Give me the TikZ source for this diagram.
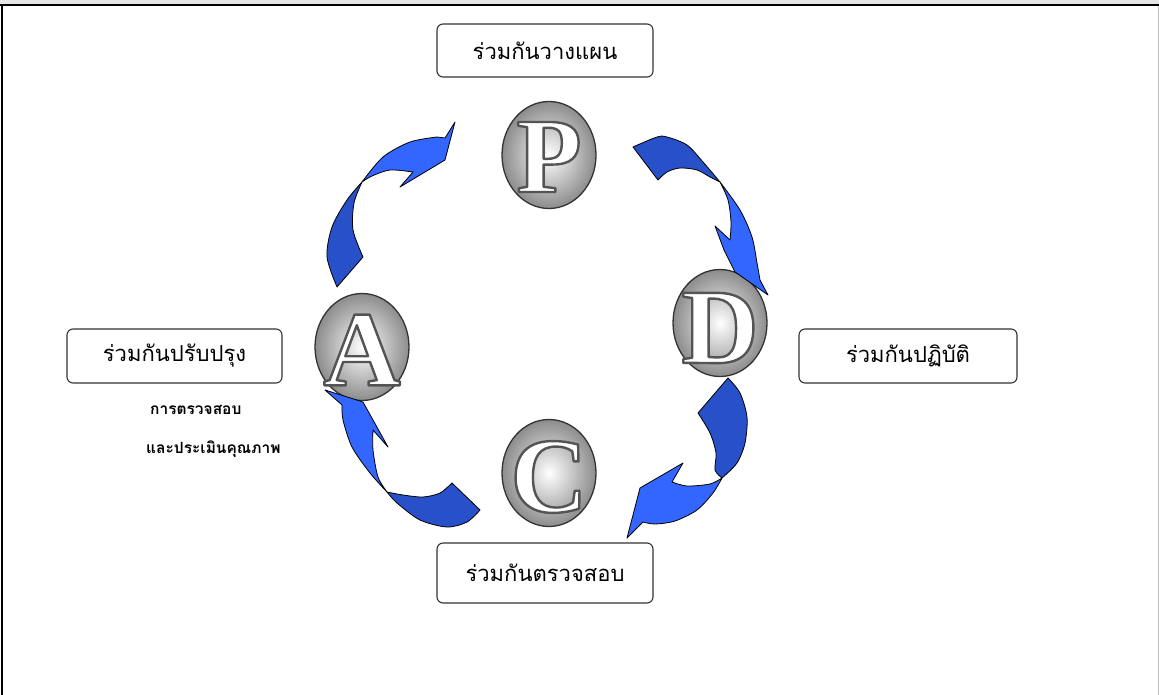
\documentclass[tikz,border=0pt]{standalone}
\usepackage{fontspec}
\newfontfamily\thaifont[Script=Thai]{Loma}
\newfontfamily\letfont{Liberation Serif}
\usetikzlibrary{shapes.geometric}
\definecolor{darkblue}{HTML}{2850C8}
\definecolor{lightblue}{HTML}{3366FF}
\definecolor{ballrim}{HTML}{333333}
\definecolor{ballout}{HTML}{8C8C8C}
\newcommand\outlined[1]{\textcolor{white}{\special{pdf:literal direct 2 Tr 2.4 w 1 j 0.33 0.33 0.33 RG}#1\special{pdf:literal direct 0 Tr}}}
\begin{document}
\begin{tikzpicture}[x=1pt,y=-1pt,
  labelbox/.style={draw=black!80, line width=1.1pt, rounded corners=6pt, fill=white,
    font=\thaifont\fontsize{22}{26}\selectfont, inner sep=0pt, align=center},
  smalltxt/.style={font=\thaifont\bfseries\fontsize{15.5}{18}\selectfont, inner sep=0pt, anchor=west},
  ball/.style={ellipse, draw=ballrim, line width=1.3pt, inner color=white, outer color=ballout,
    minimum width=94pt, minimum height=107pt, inner sep=0pt},
  letter/.style={font=\letfont\bfseries\fontsize{107}{112}\selectfont, inner sep=0pt},
  arrdark/.style={fill=darkblue, draw=black, line width=0.8pt, line join=round},
  arrlight/.style={fill=lightblue, draw=black, line width=0.8pt, line join=round}]
\useasboundingbox (0,0) rectangle (1159,695);
% frame
\fill[black!10] (0,0) rectangle (1159,4);
\draw[line width=2pt] (0,5) -- (1159,5);
\draw[line width=1.6pt] (2,5) -- (2,695);
\draw[black!25, line width=1pt] (1158,6) -- (1158,695);
% label boxes
\node[labelbox, minimum width=216pt, minimum height=53pt] (plan) at (545,50.5) {ร่วมกันวางแผน};
\node[labelbox, minimum width=218pt, minimum height=54pt] (do) at (908,356) {ร่วมกันปฏิบัติ};
\node[labelbox, minimum width=216pt, minimum height=60pt] (check) at (545,573) {ร่วมกันตรวจสอบ};
\node[labelbox, minimum width=215pt, minimum height=54pt] (act) at (174.5,356) {ร่วมกันปรับปรุง};
\node[smalltxt] (note1) at (150,410) {การตรวจสอบ};
\node[smalltxt] (note2) at (146,449) {และประเมินคุณภาพ};
% balls
\node[ball] (P) at (549,155) {};
\node[ball] (D) at (720,323) {};
\node[ball] (A) at (362,347) {};
\node[ball] (C) at (549,473) {};
\node[letter] (Pl) at ([yshift=-2pt]P.center) {\outlined{P}};
\node[letter] (Dl) at ([yshift=-5pt]D.center) {\outlined{D}};
\node[letter] (Al) at ([yshift=-3pt]A.center) {\outlined{A}};
\node[letter] (Cl) at ([yshift=-4pt]C.center) {\outlined{C}};
% top-left arrow (A -> P)
\draw[arrdark] plot[smooth] coordinates {(337,287)(327,257)(332,227)(347,200)(362,182)}
  -- plot[smooth] coordinates {(362,182)(354,203)(353,230)(363,257)} -- cycle;
\draw[arrlight] plot[smooth] coordinates {(362,182)(383,157)(410,142)(437,137)}
  -- (445,138) -- (455,122) -- (445,160) -- (400,187) -- (413,172)
  -- plot[smooth] coordinates {(413,172)(390,170)(372,176)(362,182)} -- cycle;
% top-right arrow (P -> D)
\draw[arrdark] plot[smooth] coordinates {(633,147)(657,137)(667,137)(687,145)(703,162)(720,182)}
  -- plot[smooth] coordinates {(720,182)(710,177)(697,170)(680,168)(667,172)(658,180)} -- cycle;
\draw[arrlight] plot[smooth] coordinates {(720,182)(740,210)(752,237)(757,263)(760,280)}
  -- (768,295) -- (735,272) -- (724,250) -- (715,226) -- (730,240)
  -- plot[smooth] coordinates {(730,240)(731,222)(728,200)(720,182)} -- cycle;
% bottom-right arrow (D -> C)
\draw[arrdark] plot[smooth] coordinates {(728,378)(740,393)(747,417)(745,443)(737,463)(722,478)}
  -- plot[smooth] coordinates {(722,478)(715,470)(716,453)(710,433)(698,413)} -- cycle;
\draw[arrlight] plot[smooth] coordinates {(722,478)(713,493)(697,510)(675,521)(655,524)(643,522)}
  -- (627,538) -- (640,488) -- (683,463) -- (672,482)
  -- plot[smooth] coordinates {(672,482)(687,486)(710,484)(722,478)} -- cycle;
% bottom-left arrow (C -> A)
\draw[arrdark] plot[smooth] coordinates {(480,510)(467,522)(447,527)(420,520)(397,503)(387,492)}
  -- plot[smooth] coordinates {(387,492)(403,495)(423,497)(440,493)(452,483)} -- cycle;
\draw[arrlight] plot[smooth] coordinates {(387,492)(370,473)(352,447)(343,420)(342,405)}
  -- (325,390) -- (363,402) -- (388,447) -- (373,430)
  -- plot[smooth] coordinates {(373,430)(373,450)(378,477)(387,492)} -- cycle;
\end{tikzpicture}
\end{document}
